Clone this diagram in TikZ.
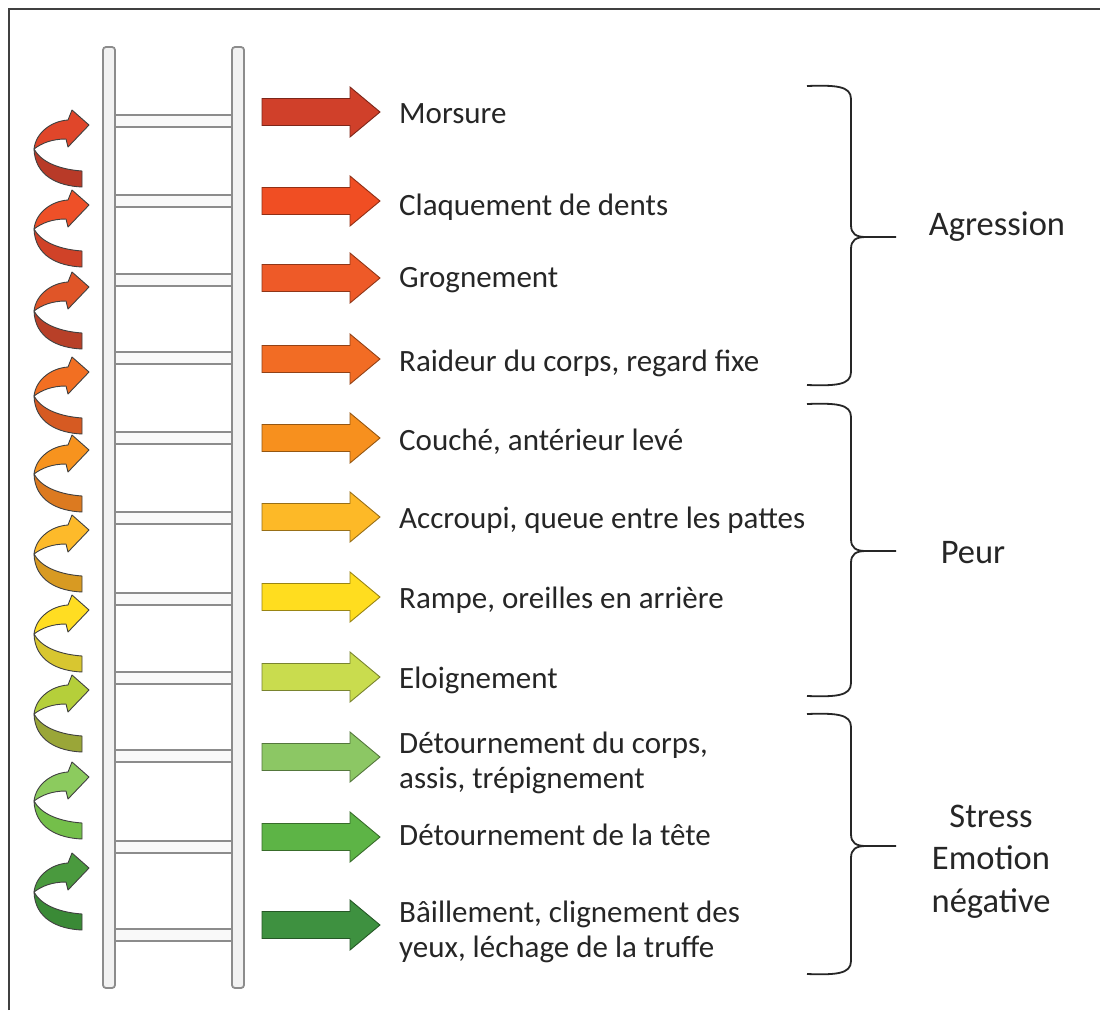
\documentclass[tikz,border=0pt]{standalone}
\usepackage{fontspec}
\setmainfont{Carlito}
\definecolor{txt}{HTML}{262626}
% block arrow colours
\definecolor{a1}{HTML}{D0402A}
\definecolor{a2}{HTML}{F04E23}
\definecolor{a3}{HTML}{EE5A28}
\definecolor{a4}{HTML}{F26C24}
\definecolor{a5}{HTML}{F7901E}
\definecolor{a6}{HTML}{FDB927}
\definecolor{a7}{HTML}{FFDD1F}
\definecolor{a8}{HTML}{C9DC4E}
\definecolor{a9}{HTML}{8CC764}
\definecolor{a10}{HTML}{5DB446}
\definecolor{a11}{HTML}{3E9140}
% twisted arrows (upper / lower)
\definecolor{cu1}{HTML}{E0462A}\definecolor{cl1}{HTML}{B83A28}
\definecolor{cu2}{HTML}{EE5028}\definecolor{cl2}{HTML}{D04228}
\definecolor{cu3}{HTML}{E05528}\definecolor{cl3}{HTML}{B84028}
\definecolor{cu4}{HTML}{F26F22}\definecolor{cl4}{HTML}{D65A22}
\definecolor{cu5}{HTML}{F7931E}\definecolor{cl5}{HTML}{DC7A20}
\definecolor{cu6}{HTML}{FDBA2A}\definecolor{cl6}{HTML}{D89A22}
\definecolor{cu7}{HTML}{FFDD22}\definecolor{cl7}{HTML}{D8C630}
\definecolor{cu8}{HTML}{B5CF3A}\definecolor{cl8}{HTML}{9AA638}
\definecolor{cu9}{HTML}{8CCB5E}\definecolor{cl9}{HTML}{74BF4A}
\definecolor{cu10}{HTML}{4A9A3E}\definecolor{cl10}{HTML}{3A8A36}
\begin{document}
\begin{tikzpicture}[x=1pt,y=-1pt,
  lbl/.style={inner sep=0pt, text=txt, font=\fontsize{31}{35}\selectfont},
  grp/.style={inner sep=0pt, text=txt, font=\fontsize{34.5}{42.5}\selectfont},
  blockarr/.style={line width=0.9pt, line join=miter},
  ribbon/.style={draw=black!75, line width=0.9pt, line join=round},
  brace/.style={draw=black!85, line width=1.8pt},
  rail/.style={draw=black!45, fill=gray!10, line width=1.8pt, rounded corners=3pt},
  rung/.style={draw=black!45, fill=gray!5, line width=1.8pt}]
\useasboundingbox (0,0) rectangle (1100,1010);
\fill[white] (0,0) rectangle (1100,1010);
% frame
\draw[line width=2.2pt, draw=black!75] (9,1010) -- (9,9) -- (1100,9);
% ladder
\foreach \r in {121,201,280,358,438,518,599,678,756,847,935}
  \draw[rung] (113,\r-6) rectangle (234,\r+6);
\draw[rail] (103,47) rectangle (115,988);
\draw[rail] (232,47) rectangle (244,988);
% twisted arrows
\foreach \h/\cu/\cl in {125/cu1/cl1,205/cu2/cl2,287/cu3/cl3,372/cu4/cl4,450/cu5/cl5,530/cu6/cl6,610/cu7/cl7,690/cu8/cl8,777/cu9/cl9,868/cu10/cl10}{
  \begin{scope}[shift={(0,\h)}]
    \filldraw[ribbon, fill=\cl] (34,24) .. controls (40,35) and (55,44) .. (82,46) -- (82,62) .. controls (58,61) and (35,51) .. (34,24) -- cycle;
    \filldraw[ribbon, fill=\cu] (34,24) .. controls (36,7) and (52,-4) .. (68,-5) -- (72,-15) -- (89,0) -- (68,22) -- (66,14) .. controls (52,14) and (42,18) .. (34,24) -- cycle;
  \end{scope}
}
% block arrows
\foreach \y/\c in {112/a1,201/a2,278/a3,359/a4,438/a5,517/a6,597/a7,677/a8,757/a9,837/a10,925/a11}
  \draw[blockarr, draw=\c!60!black, fill=\c] (262,\y-13.5) -- (350,\y-13.5) -- (350,\y-25) -- (380,\y) -- (350,\y+25) -- (350,\y+13.5) -- (262,\y+13.5) -- cycle;
% texts
\node[lbl, anchor=base west] (t1) at (399,123) {Morsure};
\node[lbl, anchor=base west] (t2) at (399,215) {Claquement de dents};
\node[lbl, anchor=base west] (t3) at (399,287) {Grognement};
\node[lbl, anchor=base west] (t4) at (399,371) {Raideur du corps, regard fixe};
\node[lbl, anchor=base west] (t5) at (399,450) {Couché, antérieur levé};
\node[lbl, anchor=base west] (t6) at (399,528) {Accroupi, queue entre les pattes};
\node[lbl, anchor=base west] (t7) at (399,608) {Rampe, oreilles en arrière};
\node[lbl, anchor=base west] (t8) at (399,688) {Eloignement};
\node[lbl, anchor=base west] (t9) at (399,753) {\begin{tabular}[t]{@{}l@{}}Détournement du corps,\\assis, trépignement\end{tabular}};
\node[lbl, anchor=base west] (t10) at (399,845) {Détournement de la tête};
\node[lbl, anchor=base west] (t11) at (399,922) {\begin{tabular}[t]{@{}l@{}}Bâillement, clignement des\\yeux, léchage de la truffe\end{tabular}};
% braces
\foreach \t/\m/\b in {86/237/385, 404/551/696, 714/846/974}{
  \draw[brace] (807,\t) .. controls (836,\t-1) and (851,\t) .. (851,\t+13) -- (851,\m-12) .. controls (851,\m-3) and (856,\m) .. (866,\m) -- (896,\m);
  \draw[brace] (866,\m) .. controls (856,\m) and (851,\m+3) .. (851,\m+12) -- (851,\b-13) .. controls (851,\b) and (836,\b+1) .. (807,\b);
}
% group labels
\node[grp, anchor=base] (g1) at (997,235) {Agression};
\node[grp, anchor=base] (g2) at (973,563) {Peur};
\node[grp, anchor=base] (g3) at (991,827) {\begin{tabular}[t]{@{}c@{}}Stress\\Emotion\\négative\end{tabular}};
\end{tikzpicture}
\end{document}
